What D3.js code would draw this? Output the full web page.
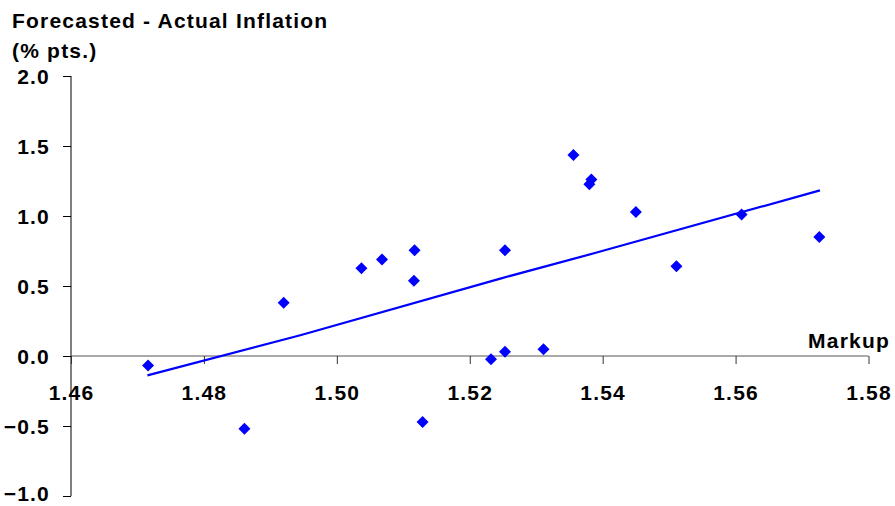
<!DOCTYPE html>
<html>
<head>
<meta charset="utf-8">
<script src="https://cdn.jsdelivr.net/npm/d3@7"></script>
<style>
  html, body { margin: 0; padding: 0; background: #fff; }
  svg { display: block; font-family: "Liberation Sans", Arial, sans-serif; font-weight: bold; }
</style>
</head>
<body>
<div id="chart"></div>
<script>
  // datos
  const markup = [1.4716, 1.4861, 1.4920, 1.5037, 1.5068, 1.5117, 1.5116, 1.5129, 1.5232, 1.5253,
                  1.5311, 1.5253, 1.5356, 1.5380, 1.5383, 1.5450, 1.5511, 1.5609, 1.5726];
  const inflGap = [-0.067, -0.52, 0.38, 0.626, 0.69, 0.755, 0.538, -0.471, -0.024, 0.031,
                   0.048, 0.755, 1.436, 1.226, 1.26, 1.029, 0.641, 1.01, 0.85];
  // línea de tendencia
  const trendX = [1.4715, 1.4945, 1.5246, 1.5391, 1.5727];
  const trendY = [-0.138, 0.148, 0.553, 0.739, 1.183];

  const xTicks = [1.46, 1.48, 1.50, 1.52, 1.54, 1.56, 1.58];
  const yTicks = [2.0, 1.5, 1.0, 0.5, 0.0, -0.5, -1.0];

  const width = 895, height = 506;
  const FONT = 21, SPACING = 1.2;
  const svg = d3.select('#chart').append('svg')
    .attr('width', width).attr('height', height);

  const x = d3.scaleLinear().domain([1.46, 1.58]).range([71, 868.5]);
  const y = d3.scaleLinear().domain([-1.0, 2.0]).range([496, 76]);

  // título
  const title = svg.append('text')
    .attr('font-size', FONT).attr('letter-spacing', SPACING).attr('fill', '#000');
  title.append('tspan').attr('x', 12).attr('y', 28).text('Forecasted - Actual Inflation');
  title.append('tspan').attr('x', 12).attr('y', 58).text('(% pts.)');

  // eje Y
  const yAxis = svg.append('g')
    .attr('transform', `translate(${x(1.46)},0)`)
    .call(d3.axisLeft(y).tickValues(yTicks).tickSize(8).tickPadding(13)
      .tickFormat(d3.format('.1f')));
  yAxis.select('.domain').attr('stroke', '#000').attr('d', `M0,${y(2.0)}V${y(-1.0)}`);
  yAxis.selectAll('.tick line').attr('stroke', '#000');
  yAxis.selectAll('.tick text')
    .attr('font-size', FONT).attr('letter-spacing', SPACING).attr('fill', '#000')
    .attr('font-family', '"Liberation Sans", Arial, sans-serif').attr('font-weight', 'bold')
    .attr('dy', (d) => d === -1.0 ? '0.2em' : '0.36em'); // la última queda pegada al borde

  // eje X en y=0
  const xAxis = svg.append('g')
    .attr('transform', `translate(0,${y(0)})`)
    .call(d3.axisBottom(x).tickValues(xTicks).tickSize(8).tickPadding(21)
      .tickFormat(d3.format('.2f')));
  xAxis.select('.domain').attr('stroke', '#555').attr('d', `M${x(1.46)},0H${x(1.58)}`);
  xAxis.selectAll('.tick line').attr('stroke', '#333');
  xAxis.selectAll('.tick text')
    .attr('font-size', FONT).attr('letter-spacing', SPACING).attr('fill', '#000')
    .attr('font-family', '"Liberation Sans", Arial, sans-serif').attr('font-weight', 'bold');

  svg.append('text')
    .attr('x', 890).attr('y', 348)
    .attr('text-anchor', 'end')
    .attr('font-size', FONT).attr('letter-spacing', SPACING).attr('fill', '#000')
    .text('Markup');

  // tendencia
  const line = d3.line().x((d) => x(d[0])).y((d) => y(d[1]));
  svg.append('path')
    .datum(d3.zip(trendX, trendY))
    .attr('d', line)
    .attr('fill', 'none').attr('stroke', '#0000ff').attr('stroke-width', 2.2);

  // puntos
  const r = 6;
  svg.append('g').selectAll('path.pt')
    .data(d3.zip(markup, inflGap))
    .join('path')
    .attr('class', 'pt')
    .attr('transform', (d) => `translate(${x(d[0])},${y(d[1])})`)
    .attr('d', `M0,${-r}L${r},0L0,${r}L${-r},0Z`)
    .attr('fill', '#0000ff');
</script>
</body>
</html>
